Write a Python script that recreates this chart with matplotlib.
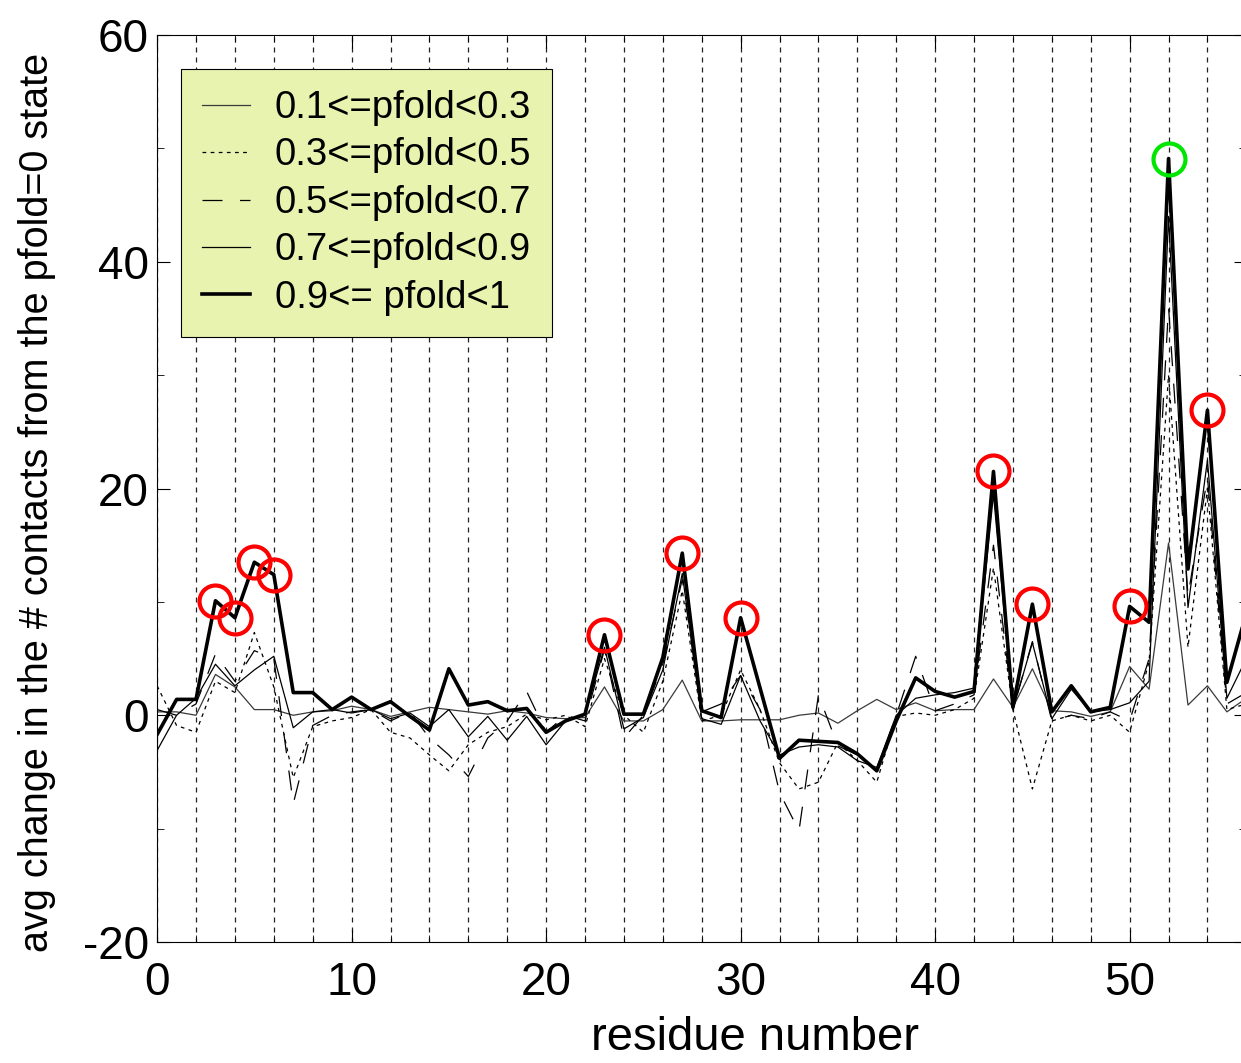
import matplotlib
matplotlib.use("Agg")
import matplotlib.pyplot as plt
from matplotlib.ticker import MultipleLocator

plt.rcParams['font.family'] = ['Liberation Sans', 'DejaVu Sans']
plt.rcParams['axes.unicode_minus'] = False

residues = list(range(57))

pfold_01_03 = [0.3, 0.3, 0.0, 3.6, 2.5, 0.5, 0.5, 0.0, 0.3, 0.4,
               0.8, 0.5, -0.1, 0.3, 0.7, 0.5, 0.3, 0.1, 0.4, 0.2,
               -0.2, -0.3, -0.2, 2.5, -0.5, -0.5, 0.5, 3.1, -0.5, -0.5,
               -0.4, -0.4, -0.4, 0.0, 0.2, -0.7, 0.4, 1.4, 0.5, 1.1,
               0.4, 0.5, 0.5, 3.2, 0.7, 4.1, 0.4, 0.3, -0.1, 0.3,
               4.3, 2.3, 15.2, 0.9, 2.6, 0.3, 1.5]
pfold_03_05 = [2.6, -0.9, -1.5, 3.0, 2.0, 7.3, 2.5, -5.5, -1.0, -0.5,
               -0.2, 0.5, -1.5, -2.0, -3.5, -4.9, -2.6, -1.5, -1.0, 0.1,
               -0.4, 0.0, -1.0, 5.0, 0.0, -1.5, 3.0, 11.0, -0.5, 0.0,
               4.0, 0.5, -4.2, -6.5, -5.9, -2.4, -4.0, -5.9, -0.1, 0.2,
               0.0, 0.5, 1.5, 13.0, 0.5, -6.5, -0.5, 0.0, -0.5, 0.0,
               -1.5, 4.7, 30.0, 6.0, 20.0, 0.5, 1.0]
pfold_05_07 = [0.5, 0.0, 1.0, 5.4, 3.0, 5.7, 5.0, -7.8, -0.9, 0.0,
               0.3, 0.5, -0.5, 0.3, -2.0, -3.5, -5.4, -2.0, -0.5, 2.1,
               -1.5, 0.0, -0.5, 5.8, -2.0, 0.0, 4.5, 12.0, 0.3, 1.0,
               3.5, 0.5, -6.8, -10.2, 1.8, -2.7, -3.5, -4.9, 0.0, 5.2,
               0.4, 1.0, 1.8, 15.0, 0.5, 6.5, -0.5, 0.0, -0.3, 0.3,
               -0.5, 5.0, 36.0, 10.5, 21.0, 1.0, 2.0]
pfold_07_09 = [-3.1, 0.0, 1.5, 4.5, 2.6, 4.0, 5.2, -1.1, 0.3, 0.5,
               0.2, 0.5, -0.3, 0.2, -1.0, 0.5, -1.9, -0.1, -2.2, -0.1,
               -2.6, -0.5, 0.0, 6.0, -1.2, -0.2, 4.0, 12.5, -0.3, -0.8,
               3.5, -0.5, -3.5, -2.8, -2.6, -2.8, -4.0, -4.6, 0.0, 1.5,
               1.8, 2.0, 2.4, 19.5, 0.5, 6.4, -0.3, 2.3, 0.3, 0.5,
               1.1, 3.0, 44.0, 9.5, 22.5, 1.5, 5.0]
pfold_09_1 = [-1.7, 1.4, 1.4, 10.1, 8.6, 13.5, 12.4, 2.0, 2.0, 0.5,
              1.6, 0.5, 1.2, -0.1, -1.3, 4.1, 0.9, 1.2, 0.4, 0.6,
              -1.5, -0.5, 0.1, 7.1, 0.1, 0.1, 5.1, 14.3, 0.4, -0.2,
              8.6, 2.4, -3.8, -2.2, -2.3, -2.4, -3.4, -4.9, -0.5, 3.3,
              2.1, 1.6, 2.1, 21.5, 0.7, 9.8, 0.3, 2.6, 0.3, 0.7,
              9.6, 8.2, 49.1, 12.9, 26.9, 2.9, 9.0]

labels = ['0.1<=pfold<0.3', '0.3<=pfold<0.5', '0.5<=pfold<0.7',
          '0.7<=pfold<0.9', '0.9<= pfold<1']

red_circles = [3, 4, 5, 6, 23, 27, 30, 43, 45, 50, 54]
green_circles = [52]

fig = plt.figure(figsize=(12.41, 10.63), dpi=100)
ax = fig.add_axes([0.1266, 0.1138, 0.8777, 0.8533])

ax.plot(residues, pfold_01_03, color='#3a3a3a', lw=0.9, label=labels[0])
ax.plot(residues, pfold_03_05, color='black', lw=0.9, linestyle=(0, (3, 3.5)), label=labels[1])
ax.plot(residues, pfold_05_07, color='black', lw=0.9, linestyle=(0, (16, 14)), label=labels[2])
ax.plot(residues, pfold_07_09, color='black', lw=0.9, label=labels[3])
ax.plot(residues, pfold_09_1, color='black', lw=2.6, label=labels[4])

ax.plot(red_circles, [pfold_09_1[r] for r in red_circles], 'o', ms=23,
        mfc='none', mec='#ff0000', mew=3)
ax.plot(green_circles, [pfold_09_1[r] for r in green_circles], 'o', ms=23,
        mfc='none', mec='#00e600', mew=3)

ax.set_xlim(0, 56)
ax.set_ylim(-20, 60)
ax.xaxis.set_major_locator(MultipleLocator(10))
ax.xaxis.set_minor_locator(MultipleLocator(2))
ax.yaxis.set_major_locator(MultipleLocator(20))
ax.yaxis.set_minor_locator(MultipleLocator(10))
ax.grid(True, which='both', axis='x', color='#222222', lw=0.9, linestyle=(0, (4, 4)))
ax.tick_params(which='both', direction='in', top=True, right=True)
ax.tick_params(which='major', length=9, labelsize=33)
ax.tick_params(which='minor', length=5)
ax.tick_params(axis='x', pad=14)
ax.tick_params(axis='y', pad=6)

ax.set_xlabel('residue number', fontsize=34)
ax.xaxis.set_label_coords(0.549, -0.082)
ax.set_ylabel('avg change in the # contacts from the pfold=0 state', fontsize=28.5)
ax.yaxis.set_label_coords(-0.093, 0.485)

leg = ax.legend(loc='upper left', bbox_to_anchor=(0.022, 0.9625), borderaxespad=0,
                fontsize=27.5, handlelength=1.25, handletextpad=0.65,
                labelspacing=0.3, borderpad=0.55, fancybox=False, framealpha=1)
leg.get_frame().set_facecolor('#e8f3b0')
leg.get_frame().set_edgecolor('black')
leg.get_frame().set_linewidth(0.8)

fig.savefig('out.png', dpi=100)
